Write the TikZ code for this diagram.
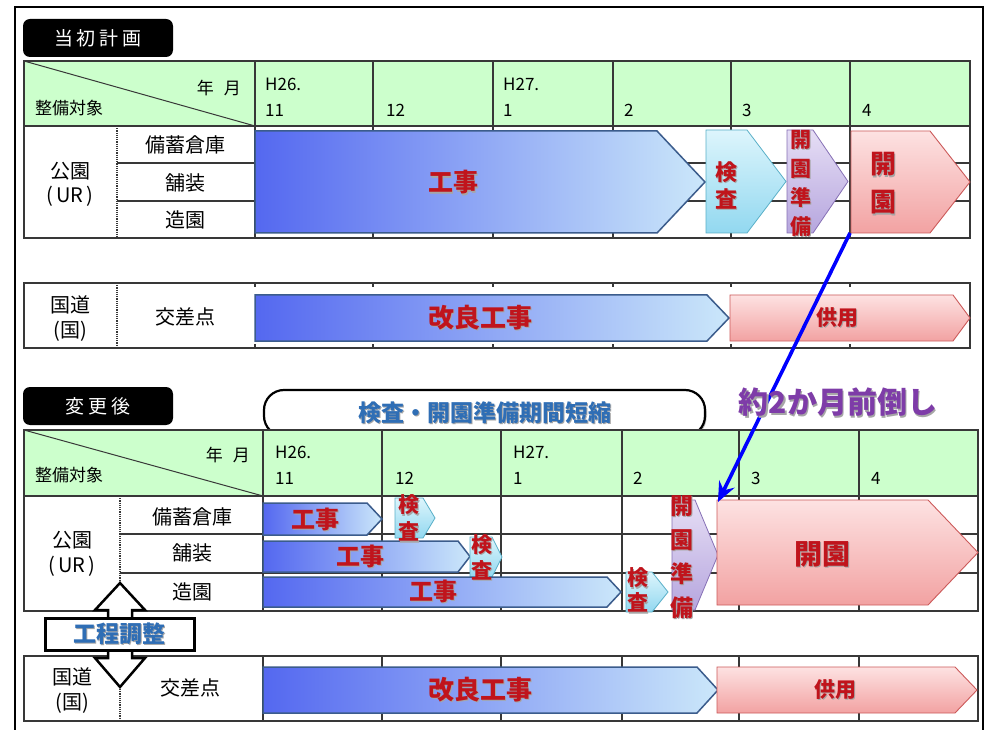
\documentclass[tikz,border=0pt]{standalone}
\usepackage{fontspec}
\setmainfont{Noto Sans CJK JP}
\usetikzlibrary{arrows.meta,shadows}
\definecolor{hdrgreen}{HTML}{CCFFCC}
\definecolor{barblueL}{HTML}{5468F0}
\definecolor{barblueR}{HTML}{CBE7FA}
\definecolor{barblueE}{HTML}{3B5C8C}
\definecolor{cyanT}{HTML}{DDF5FC}
\definecolor{cyanB}{HTML}{92D8F0}
\definecolor{cyanE}{HTML}{5AB0C8}
\definecolor{lavT}{HTML}{E6DEF5}
\definecolor{lavB}{HTML}{B6A6DE}
\definecolor{lavE}{HTML}{8670B5}
\definecolor{pinkT}{HTML}{FDE2E2}
\definecolor{pinkB}{HTML}{F2A2A2}
\definecolor{pinkE}{HTML}{CC5A5A}
\definecolor{lblred}{HTML}{C0141C}
\definecolor{lblblue}{HTML}{2F6EB5}
\definecolor{lblpurple}{HTML}{7E3CA8}
\definecolor{gridc}{HTML}{383838}
\newcommand\shd[1]{\leavevmode\rlap{\kern1.3pt\raisebox{-1.3pt}{\textcolor{black!35}{#1}}}#1}
\newcommand\gbar[6]{\shadedraw[#6] (#1,#2) -- (#3,#2) -- (#4,{(#2+#5)/2}) -- (#3,#5) -- (#1,#5) -- cycle;}
\newcommand\fs[1]{\fontsize{#1}{#1}\selectfont}
\tikzset{
  bluebar/.style={left color=barblueL, right color=barblueR, draw=barblueE, line width=1.5pt},
  cyanbar/.style={top color=cyanT, bottom color=cyanB, draw=cyanE, line width=0.8pt},
  lavbar/.style={top color=lavT, bottom color=lavB, draw=lavE, line width=0.8pt},
  pinkbar/.style={top color=pinkT, bottom color=pinkB, draw=pinkE, line width=0.9pt},
  grid/.style={draw=gridc, line width=1.3pt},
  dotl/.style={draw=gridc, line width=1.2pt, densely dotted},
  hdrlbl/.style={fill=black, text=white, rounded corners=7pt, minimum width=150pt, minimum height=38pt, inner sep=0pt, font=\fs{19}},
  cell/.style={inner sep=0pt, font=\fs{17}},
  rowlbl/.style={inner sep=0pt, font=\fs{20}},
  barlbl/.style={inner sep=0pt, text=lblred, font=\bfseries\fs{#1}},
  vlbl/.style n args={2}{inner sep=0pt, text=lblred, align=center, font=\bfseries\fontsize{#1}{#2}\selectfont},
}
\begin{document}
\begin{tikzpicture}[x=1pt,y=-1pt]
\useasboundingbox (0,0) rectangle (994,730);
\fill[white] (0,0) rectangle (994,730);
% outer frame
\draw[line width=2.5pt] (15,731) -- (15,7) -- (983,7) -- (983,731);

% ===== top: original plan =====
\node[hdrlbl] (lab1) at (98,38) {当\hspace{4pt}初\hspace{4pt}計\hspace{4pt}画};
\fill[hdrgreen] (24,61) rectangle (970,126);
\foreach \x in {255,373,493,613,731,850} \draw[grid] (\x,61) -- (\x,238);
\draw[grid] (117,163) -- (970,163) (117,201) -- (970,201);
\draw[grid] (24,126) -- (970,126);
\draw[grid] (24,61) rectangle (970,238);
\draw[grid, line width=1pt] (24,61) -- (255,126);
\draw[dotl] (117,126) -- (117,238);
\node[cell, anchor=east] (ym1) at (241,88) {年\hspace{10pt}月};
\node[cell] (tg1) at (69,108) {整備対象};
\node[cell, anchor=west] (h26a) at (265,84) {H26.};
\node[cell, anchor=west] (m11a) at (265,110) {11};
\node[cell, anchor=west] (m12a) at (386,110) {12};
\node[cell, anchor=west] (h27a) at (503,84) {H27.};
\node[cell, anchor=west] (m1a) at (503,110) {1};
\node[cell, anchor=west] (m2a) at (624,110) {2};
\node[cell, anchor=west] (m3a) at (742,110) {3};
\node[cell, anchor=west] (m4a) at (862,110) {4};
\node[rowlbl] (park1) at (70,171) {公園};
\node[rowlbl] (ur1) at (70,196) {(\,UR\,)};
\node[rowlbl] (r1a) at (185,145) {備蓄倉庫};
\node[rowlbl] (r2a) at (185,183) {舗装};
\node[rowlbl] (r3a) at (185,220) {造園};
\gbar{255}{131}{657}{705}{233}{bluebar}
\gbar{706}{130}{747}{786}{233}{cyanbar}
\gbar{787}{130}{813}{848}{233}{lavbar}
\gbar{851}{131}{930}{970}{233}{pinkbar}
\node[barlbl=25] (kojiA) at (453,183) {\shd{工事}};
\node[vlbl={22}{27}] (kensaA) at (726,186) {\shd{検}\\\shd{査}};
\node[vlbl={21}{29}] (junbiA) at (801,184) {\shd{開}\\\shd{園}\\\shd{準}\\\shd{備}};
\node[vlbl={26}{38}] (kaienA) at (883,184) {\shd{開}\\\shd{園}};

% road top
\draw[grid] (24,283) rectangle (970,348);
\foreach \x in {255,373,493,613,731,850} {\draw[grid] (\x,283) -- (\x,287); \draw[grid] (\x,344) -- (\x,348);}
\draw[dotl] (117,283) -- (117,348);
\node[rowlbl] (kd1) at (70,305) {国道};
\node[rowlbl] (kk1) at (70,331) {(国)};
\node[rowlbl] (kos1) at (185,317) {交差点};
\gbar{255}{295}{707}{729}{341}{bluebar}
\gbar{730}{295}{953}{970}{341}{pinkbar}
\node[barlbl=26] (kairyoA) at (480,318) {\shd{改良工事}};
\node[barlbl=21] (kyoA) at (837,318) {\shd{供用}};

% ===== bottom: after change =====
\node[hdrlbl] (lab2) at (98,406) {変\hspace{4pt}更\hspace{4pt}後};
\node[draw, line width=2.2pt, fill=white, rounded corners=20pt, minimum width=441pt, minimum height=46pt, inner sep=0pt,
      drop shadow={shadow xshift=1.5pt, shadow yshift=-1.5pt, fill=black!60}, text=lblblue, font=\bfseries\fs{23}] (banner) at (484.5,413) {\shd{検査・開園準備期間短縮}};

\fill[hdrgreen] (24,430) rectangle (978,496);
\foreach \x in {263,382,501,622,739,859} \draw[grid] (\x,430) -- (\x,611);
\draw[grid] (120,534) -- (978,534) (120,573) -- (978,573);
\draw[grid] (24,496) -- (978,496);
\draw[grid] (24,430) rectangle (978,611);
\draw[grid, line width=1pt] (24,430) -- (263,496);
\draw[dotl] (120,496) -- (120,611);
\node[cell, anchor=east] (ym2) at (250,455) {年\hspace{10pt}月};
\node[cell] (tg2) at (69,475) {整備対象};
\node[cell, anchor=west] (h26b) at (275,452) {H26.};
\node[cell, anchor=west] (m11b) at (275,478) {11};
\node[cell, anchor=west] (m12b) at (395,478) {12};
\node[cell, anchor=west] (h27b) at (513,452) {H27.};
\node[cell, anchor=west] (m1b) at (513,478) {1};
\node[cell, anchor=west] (m2b) at (633,478) {2};
\node[cell, anchor=west] (m3b) at (751,478) {3};
\node[cell, anchor=west] (m4b) at (871,478) {4};
\node[rowlbl] (park2) at (72,540) {公園};
\node[rowlbl] (ur2) at (72,566) {(\,UR\,)};
\node[rowlbl] (r1b) at (192,517) {備蓄倉庫};
\node[rowlbl] (r2b) at (192,553) {舗装};
\node[rowlbl] (r3b) at (192,592) {造園};

% road bottom
\draw[grid] (24,656) rectangle (978,721);
\foreach \x in {263,382,501,622,739,859} \draw[grid] (\x,656) -- (\x,721);
\draw[dotl] (120,656) -- (120,721);
\node[rowlbl] (kd2) at (72,677) {国道};
\node[rowlbl] (kk2) at (72,703) {(国)};
\node[rowlbl] (kos2) at (190,688) {交差点};

% bars bottom
\gbar{263}{503}{367}{382}{535}{bluebar}
\gbar{395}{498}{423}{435}{538}{cyanbar}
\gbar{263}{541}{458}{470}{572}{bluebar}
\gbar{470}{537}{492}{502}{577}{cyanbar}
\gbar{263}{577}{607}{621}{607}{bluebar}
\gbar{626}{572}{652}{668}{612}{cyanbar}
\gbar{672}{500}{695}{718}{610}{lavbar}
\gbar{717}{500}{928}{978}{605}{pinkbar}
\gbar{263}{667}{697}{718}{713}{bluebar}
\gbar{717}{667}{955}{977}{713}{pinkbar}
\node[barlbl=24] (kojiB1) at (315,520) {\shd{工事}};
\node[vlbl={21}{27}] (kensaB1) at (409,519) {\shd{検}\\\shd{査}};
\node[barlbl=24] (kojiB2) at (360,557) {\shd{工事}};
\node[vlbl={21}{26}] (kensaB2) at (482,558) {\shd{検}\\\shd{査}};
\node[barlbl=24] (kojiB3) at (433,592) {\shd{工事}};
\node[vlbl={21}{25}] (kensaB3) at (638,591) {\shd{検}\\\shd{査}};
\node[vlbl={23}{34}] (junbiB) at (682,558) {\shd{開}\\\shd{園}\\\shd{準}\\\shd{備}};
\node[barlbl=28] (kaienB) at (822,555) {\shd{開園}};
\node[barlbl=26] (kairyoB) at (480,690) {\shd{改良工事}};
\node[barlbl=21] (kyoB) at (835,690) {\shd{供用}};

% process adjustment double arrow
\draw[line width=2.5pt, fill=white, line join=miter] (120,583) -- (145,610) -- (132,610) -- (132,658) -- (145,658) -- (120,687) -- (95,658) -- (108,658) -- (108,610) -- (95,610) -- cycle;
\node[draw, line width=3pt, fill=white, minimum width=149pt, minimum height=32pt, inner sep=0pt,
      drop shadow={shadow xshift=1.5pt, shadow yshift=-1.5pt, fill=black!50}, text=lblblue, font=\bfseries\fs{23}] (koutei) at (119.5,634) {\shd{工程調整}};

% blue shift arrow
\coordinate (from) at (850,233);
\coordinate (to) at (718,502);
\draw[line width=3.6pt, blue, -{Stealth[length=20pt,width=17pt,inset=7pt]}] (from) -- (to);
\node[inner sep=0pt, text=lblpurple, font=\bfseries\fs{30}] (mae) at (838,403) {\shd{約2か月前倒し}};
\end{tikzpicture}
\end{document}
